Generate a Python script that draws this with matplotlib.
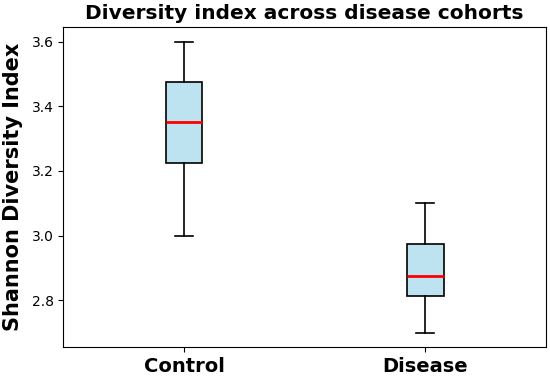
import matplotlib.pyplot as plt

# Valores
groups = ["Control", "Disease"]
whisker_low = [3.0, 2.7]
q1 = [3.225, 2.8125]
median = [3.35, 2.875]
q3 = [3.475, 2.975]
whisker_high = [3.6, 3.1]


def main():
    stats = []
    for i, name in enumerate(groups):
        stats.append({
            "label": name,
            "whislo": whisker_low[i],
            "q1": q1[i],
            "med": median[i],
            "q3": q3[i],
            "whishi": whisker_high[i],
            "fliers": [],
        })

    fig, ax = plt.subplots(figsize=(5.5, 3.76), dpi=100)
    ax.bxp(stats, widths=0.15, patch_artist=True, showfliers=False,
           boxprops=dict(facecolor="#bde3f0", edgecolor="black", linewidth=1.2),
           medianprops=dict(color="red", linewidth=2),
           whiskerprops=dict(color="black", linewidth=1.2),
           capprops=dict(color="black", linewidth=1.2))

    ax.set_title("Diversity index across disease cohorts", fontsize=14.5, fontweight="bold")
    ax.set_ylabel("Shannon Diversity Index", fontsize=15, fontweight="bold", labelpad=6)
    ax.set_yticks([2.8, 3.0, 3.2, 3.4, 3.6])
    ax.tick_params(axis="y", labelsize=10)
    ax.tick_params(axis="x", labelsize=14)
    for lbl in ax.get_xticklabels():
        lbl.set_fontweight("bold")

    fig.subplots_adjust(left=0.115, right=0.993, top=0.928, bottom=0.077)
    plt.savefig("out.png")


if __name__ == "__main__":
    main()
